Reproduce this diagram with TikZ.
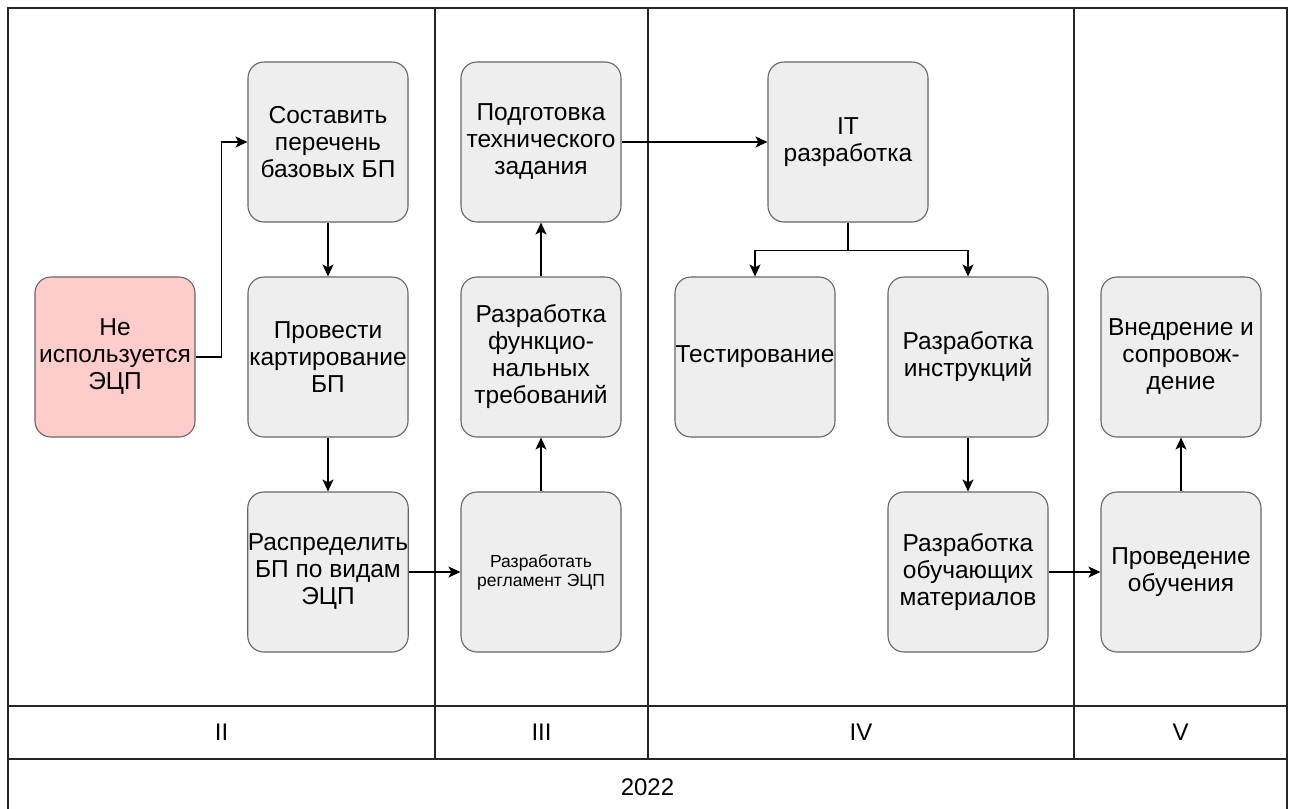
\documentclass[tikz,border=0pt]{standalone}
\usepackage{fontspec}
\setmainfont{Liberation Sans}
\usetikzlibrary{arrows.meta}
\definecolor{boxfill}{HTML}{EEEEEE}
\definecolor{boxline}{HTML}{666666}
\definecolor{redfill}{HTML}{FFCCCC}
\tikzset{
  stage/.style={draw=boxline, fill=boxfill, rounded corners=16pt, line width=1.1pt,
    minimum width=160pt, minimum height=160pt, inner sep=0pt, align=center,
    font=\fontsize{24.5}{27}\selectfont},
  smalltext/.style={font=\fontsize{17.5}{19}\selectfont},
  flow/.style={-{Stealth[length=12pt,width=11pt,inset=3pt]}, line width=1.2pt},
  gridline/.style={line width=1.1pt, black!85},
  period/.style={font=\fontsize{24}{27}\selectfont}
}
\begin{document}
\begin{tikzpicture}[x=1pt,y=-1pt]
        \useasboundingbox (0,0) rectangle (1294,809);
        % table
        \draw[gridline] (8,809) -- (8,8) -- (1287,8) -- (1287,809);
        \draw[gridline] (8,706) -- (1287,706);
        \draw[gridline] (8,759) -- (1287,759);
        \foreach \x in {435,648,1074}
            \draw[gridline] (\x,8) -- (\x,759);
        \node[period] (q2) at (221.5,732.5) {II};
        \node[period] (q3) at (541.5,732.5) {III};
        \node[period] (q4) at (861,732.5) {IV};
        \node[period] (q5) at (1180.5,732.5) {V};
        \node[period] (year) at (647.5,787) {2022};
        % stages
        \node[stage, fill=redfill] (noesign) at (115,357) {Не\\используется\\ЭЦП};
        \node[stage] (list) at (328,142) {Составить\\перечень\\базовых БП};
        \node[stage] (mapping) at (328,357) {Провести\\картирование\\БП};
        \node[stage] (split) at (328,572) {Распределить\\БП по видам\\ЭЦП};
        \node[stage, smalltext] (rules) at (541,572) {Разработать\\регламент ЭЦП};
        \node[stage] (funcreq) at (541,357) {Разработка\\функцио-\\нальных\\требований};
        \node[stage] (spec) at (541,142) {Подготовка\\технического\\задания};
        \node[stage] (itdev) at (848,142) {IT\\разработка};
        \node[stage] (testing) at (755,357) {Тестирование};
        \node[stage] (manuals) at (968,357) {Разработка\\инструкций};
        \node[stage] (materials) at (968,572) {Разработка\\обучающих\\материалов};
        \node[stage] (training) at (1181,572) {Проведение\\обучения};
        \node[stage] (rollout) at (1181,357) {Внедрение и\\сопровож-\\дение};
        % connectors
        \draw[flow] (noesign.east) -- ++(26,0) |- (list.west);
        \draw[flow] (list) -- (mapping);
        \draw[flow] (mapping) -- (split);
        \draw[flow] (split) -- (rules);
        \draw[flow] (rules) -- (funcreq);
        \draw[flow] (funcreq) -- (spec);
        \draw[flow] (spec) -- (itdev);
        \draw[flow] (itdev.south) -- ++(0,28) -| (testing.north);
        \draw[flow] (itdev.south) -- ++(0,28) -| (manuals.north);
        \draw[flow] (manuals) -- (materials);
        \draw[flow] (materials) -- (training);
        \draw[flow] (training) -- (rollout);
\end{tikzpicture}
\end{document}
